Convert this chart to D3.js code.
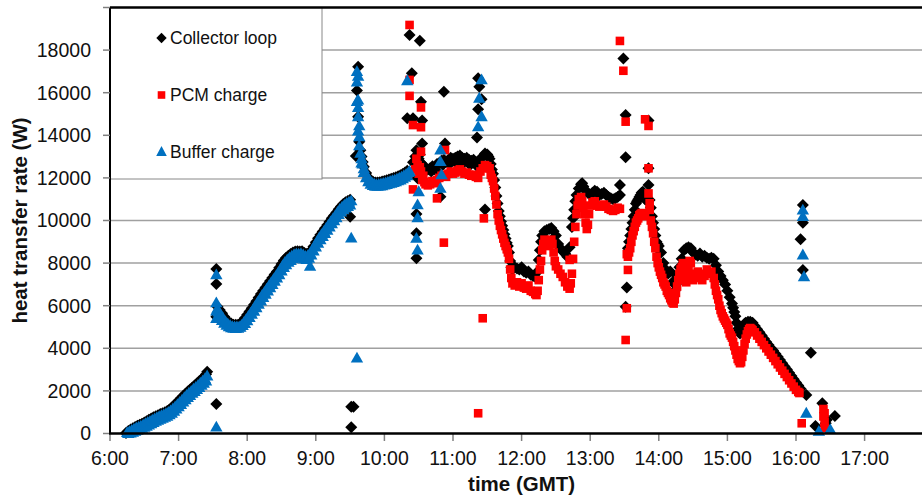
<!DOCTYPE html>
<html><head><meta charset="utf-8">
<script src="https://cdn.jsdelivr.net/npm/d3@7"></script>
<style>body{margin:0;background:#fff;} svg{display:block;font-family:"Liberation Sans",Arial,sans-serif;}</style>
</head><body><svg id="chart" width="922" height="499"></svg>
<script>
const xTickHours = [6,7,8,9,10,11,12,13,14,15,16,17];
const xTickLabels = ["6:00","7:00","8:00","9:00","10:00","11:00","12:00","13:00","14:00","15:00","16:00","17:00"];
const yTicks = [0,2000,4000,6000,8000,10000,12000,14000,16000,18000];
const seriesNames = ["Collector loop","PCM charge","Buffer charge"];
const xTitle = "time (GMT)";
const yTitle = "heat transfer rate (W)";

const collectorLoop = [
["6:14",20],["6:16",120],["6:18",190],["6:20",250],["6:22",310],["6:24",360],["6:26",410],["6:28",460],["6:30",520],["6:32",580],["6:34",640],["6:36",700],["6:38",760],["6:40",810],["6:42",860],["6:44",910],["6:46",950],["6:48",1000],["6:50",1060],["6:52",1130],["6:54",1220],["6:56",1320],["6:58",1430],["7:00",1540],["7:02",1650],["7:04",1760],["7:06",1870],["7:08",1970],["7:10",2060],["7:12",2160],["7:14",2250],["7:16",2350],["7:18",2450],["7:20",2550],["7:22",2650],["7:24",2780],["7:25",2900],
["7:33",1380],["7:33",7720],["7:33",7020],["7:33",5480],
["7:34",5950],["7:36",5800],["7:38",5650],["7:40",5480],["7:42",5330],["7:44",5230],["7:46",5160],["7:48",5110],["7:50",5100],["7:52",5110],["7:54",5160],["7:56",5280],["7:58",5420],["8:00",5570],["8:02",5730],["8:04",5880],["8:06",6040],["8:08",6210],["8:10",6380],["8:12",6550],["8:14",6700],["8:16",6860],["8:18",7010],["8:20",7160],["8:22",7310],["8:24",7460],["8:26",7610],["8:28",7780],["8:30",7960],["8:32",8120],["8:34",8250],["8:36",8350],["8:38",8430],["8:40",8500],["8:42",8540],["8:44",8560],["8:46",8540],["8:48",8560],["8:50",8480],["8:52",8430],["8:54",8480],["8:56",8600],["8:58",8780],["9:00",8980],["9:02",9170],["9:04",9330],["9:06",9480],["9:08",9640],["9:10",9790],["9:12",9940],["9:14",10100],["9:16",10240],["9:18",10380],["9:20",10530],["9:22",10660],["9:24",10770],["9:26",10860],["9:28",10920],["9:30",10980],
["9:30",10180],["9:31",1260],["9:33",1260],["9:31",290],
["9:35",13030],["9:37",17220],["9:36",16100],["9:37",14870],
["9:38",13700],["9:39",13300],["9:40",13000],["9:41",12750],["9:42",12520],["9:44",12230],["9:46",12020],["9:48",11880],["9:50",11820],["9:52",11780],["9:54",11780],["9:56",11800],["9:58",11830],["10:00",11860],["10:02",11890],["10:04",11920],["10:06",11960],["10:08",11990],["10:10",12030],["10:12",12080],["10:14",12120],["10:16",12180],["10:18",12250],["10:20",12330],
["10:22",18710],["10:31",18440],["10:24",16910],["10:32",15580],["10:20",14800],["10:25",14800],["10:33",14690],["10:33",13620],["10:25",12730],["10:29",11980],["10:28",10300],["10:28",9400],["10:28",8230],["10:52",16050],["10:53",13620],["10:49",11120],
["10:27",13000],["10:28",13300],["10:30",12900],["10:31",13100],["10:32",12700],["10:34",12600],["10:36",12450],["10:38",12400],["10:40",12450],["10:42",12550],["10:44",12500],["10:46",12650],["10:48",12700],["10:50",12800],["10:52",12850],["10:54",12750],["10:56",12850],["10:58",12950],["11:00",12900],["11:02",12950],["11:04",13000],["11:06",13050],["11:08",12950],["11:10",12900],["11:12",12950],["11:14",12850],["11:16",12800],["11:18",12850],["11:20",12750],["11:22",12700],["11:24",12900],["11:26",13000],["11:28",13150],["11:30",13100],
["10:41",12300],["10:45",12350],["10:51",12600],["10:57",12650],["11:03",12700],["11:09",12700],["11:15",12600],["11:21",12550],
["11:21",13900],["11:22",15220],["11:22",16680],["11:23",16280],["11:25",15690],["11:28",10520],
["11:31",13000],["11:32",12900],["11:33",12650],["11:34",12400],["11:35",12200],["11:36",11900],["11:37",11550],["11:38",11150],["11:39",10800],["11:40",10450],["11:41",10200],["11:42",9950],["11:43",9750],["11:44",9550],["11:45",9350],["11:46",9150],["11:47",8950],["11:48",8800],["11:49",8500],["11:50",8100],["11:51",7800],
["11:52",7700],["11:54",7800],["11:56",7750],["11:58",7700],["12:00",7800],["12:02",7600],["12:04",7550],["12:06",7600],["12:08",7450],["12:10",7400],["12:12",7350],["12:14",7600],["12:15",8150],["12:16",8600],["12:17",9000],["12:18",9300],["12:20",9500],["12:22",9550],["12:24",9600],["12:26",9650],["12:28",9500],["12:30",9300],["12:32",8900],["12:34",8700],["12:36",8550],["12:38",8450],["12:40",8300],["12:42",8750],["12:44",9700],["12:45",10100],["12:46",10500],["12:47",10900],["12:48",11200],["12:50",11500],["12:52",11700],["12:53",11750],["12:54",11600],["12:56",11400],["12:58",11300],["13:00",11200],["13:02",11300],["13:04",11400],["13:06",11350],["13:08",11200],["13:10",11250],["13:12",11300],["13:14",11200],["13:16",11100],["13:18",11050],["13:20",11000],["13:22",11050],["13:24",11100],["13:26",11200],
["13:26",11670],["13:29",17610],["13:31",14950],["13:31",12970],["13:32",6860],["13:31",5950],
["13:33",8700],["13:34",9000],["13:35",9300],["13:36",9600],["13:37",9900],["13:38",10200],["13:39",10500],["13:40",10800],["13:41",10900],["13:42",11000],["13:43",11100],["13:44",11200],["13:45",11300],["13:46",11350],["13:48",11000],["13:50",10900],
["13:51",14690],["13:51",12450],["13:51",11670],
["13:52",10960],["13:53",10600],["13:54",10200],["13:55",9900],["13:56",9600],["13:57",9300],["13:58",9000],["13:59",8900],["14:00",8800],["14:02",8500],["14:04",8000],["14:06",7700],["14:08",7500],["14:10",7600],["14:12",7100],["14:13",6600],["14:14",6700],["14:15",7000],["14:16",7400],["14:18",7800],["14:20",8200],["14:22",8600],["14:24",8700],["14:26",8750],["14:28",8700],["14:30",8500],["14:32",8400],["14:34",8350],["14:36",8450],["14:38",8300],["14:40",8350],["14:42",8250],["14:44",8200],["14:46",8250],["14:48",8200],
["14:50",7900],["14:52",7600],["14:54",7400],["14:56",7200],["14:58",7000],["15:00",6700],["15:02",6400],["15:04",6100],["15:05",5900],["15:06",5700],["15:07",5500],["15:08",5200],["15:09",4900],["15:10",4750],["15:11",4700],["15:12",4800],["15:13",4950],["15:14",5050],["15:15",5150],["15:16",5200],["15:18",5250],["15:20",5250],["15:22",5200],["15:24",5050],["15:26",4900],["15:28",4750],["15:30",4600],["15:32",4450],["15:34",4300],["15:36",4150],["15:38",4000],["15:40",3900],["15:42",3750],["15:44",3600],["15:46",3450],["15:48",3300],["15:50",3150],["15:52",3000],["15:54",2850],["15:56",2700],["15:58",2550],["16:00",2400],["16:02",2250],["16:04",2100],
["16:09",1810],["16:04",9120],["16:06",10730],["16:06",9900],["16:06",7680],["16:13",3790],["16:17",350],["16:23",1420],["16:26",480],["16:27",650],["16:34",820]
];

const pcmCharge = [
["10:22",19180],["10:22",16600],["10:22",15850],["10:25",14480],["10:32",15310],["10:32",14380],["10:32",13230],["10:25",11460],["10:46",11040],["10:53",13310],["10:52",8960],
["10:27",12400],["10:28",12900],["10:29",12600],["10:30",12200],["10:31",12500],["10:32",12300],["10:33",11900],["10:34",12100],["10:35",11800],["10:36",11700],["10:38",11650],["10:40",11700],["10:42",11850],["10:44",11750],["10:46",11900],["10:48",12000],["10:50",12100],["10:52",12150],["10:54",12050],["10:56",12200],["10:58",12300],["11:00",12200],["11:02",12250],["11:04",12350],["11:06",12400],["11:08",12300],["11:10",12200],["11:12",12250],["11:14",12150],["11:16",12100],["11:18",12150],["11:20",12050],["11:22",12000],
["11:27",10100],["11:26",5410],["11:22",950],
["11:24",12300],["11:26",12450],["11:28",12600],["11:30",12550],["11:32",12450],["11:33",12150],["11:34",12000],["11:35",11850],["11:36",11500],["11:37",11150],["11:38",10750],["11:39",10300],["11:40",10000],["11:41",9750],["11:42",9550],["11:43",9350],["11:44",9150],["11:45",8950],["11:46",8800],["11:47",8650],["11:48",8500],["11:49",8200],["11:50",7700],["11:51",7300],["11:52",7050],
["11:54",6950],["11:56",7100],["11:58",6900],["12:00",7050],["12:02",6850],["12:04",6800],["12:06",6950],["12:08",6700],["12:10",6650],["12:12",6550],["12:13",6500],["12:14",6700],["12:15",7200],["12:16",7700],["12:17",8100],["12:18",8600],["12:19",8900],["12:20",9100],["12:22",9000],["12:24",8800],["12:26",9100],["12:27",8900],["12:28",8500],["12:29",8100],["12:30",7850],["12:32",7700],["12:34",7500],["12:36",7350],["12:38",7100],["12:40",6900],["12:42",6800],["12:43",7050],["12:42",8150],
["12:44",7500],["12:45",8200],["12:46",9000],["12:47",9700],["12:48",10300],["12:49",10700],["12:50",11000],["12:52",11100],["12:53",10900],["12:54",10600],["12:55",10300],["12:56",9900],["12:57",9600],["12:58",9800],["12:59",10300],["13:00",10700],["13:02",10850],["13:04",10900],["13:06",10700],["13:08",10650],["13:10",10700],["13:12",10750],["13:14",10650],["13:16",10550],["13:18",10500],["13:20",10450],["13:22",10500],["13:24",10600],["13:26",10550],
["13:26",18430],["13:29",17030],["13:31",14640],["13:31",4390],["13:32",8420],["13:33",7680],["13:32",5880],
["13:33",8300],["13:34",8500],["13:35",8700],["13:36",9000],["13:37",9300],["13:38",9500],["13:39",9700],["13:40",9900],["13:41",10000],["13:42",10100],["13:43",10250],["13:44",10300],["13:45",10350],["13:46",10200],["13:48",10300],
["13:48",14750],["13:51",14440],["13:51",12450],["13:51",11270],["13:52",10810],
["13:52",10500],["13:53",10000],["13:54",9700],["13:55",9400],["13:56",9000],["13:57",8700],["13:58",8300],["13:59",8000],["14:00",7800],["14:01",7600],["14:02",7450],["14:03",7300],["14:04",7100],["14:05",7000],["14:06",6900],["14:07",6700],["14:08",6600],["14:09",6500],["14:10",6350],["14:11",6250],["14:12",6150],["14:13",6100],["14:14",6300],["14:15",6600],["14:16",6900],["14:17",7200],["14:18",7500],["14:19",7700],["14:20",7800],["14:21",8000],["14:22",7600],["14:23",7300],["14:24",7100],["14:25",7400],["14:26",7800],["14:27",8100],["14:28",8000],["14:29",7500],["14:30",7200],["14:32",7300],["14:34",7600],["14:36",7500],["14:38",7200],["14:40",7400],["14:42",7700],["14:44",7500],["14:46",7600],["14:48",7300],
["14:49",7000],["14:50",6700],["14:51",6500],["14:52",6300],["14:53",6000],["14:54",5800],["14:55",5650],["14:56",5500],["14:57",5400],["14:58",5300],["14:59",5200],["15:00",5100],["15:01",4900],["15:02",4700],["15:03",4600],["15:04",4500],["15:05",4300],["15:06",4100],["15:07",3900],["15:08",3700],["15:09",3500],["15:10",3400],["15:11",3300],["15:12",3350],["15:13",3600],["15:14",3900],["15:15",4200],["15:16",4450],["15:17",4650],["15:18",4800],["15:19",4900],["15:20",4950],["15:21",4900],["15:22",4850],["15:24",4750],["15:26",4600],["15:28",4450],["15:30",4300],["15:32",4150],["15:34",4000],["15:36",3850],["15:38",3700],["15:40",3550],["15:42",3400],["15:44",3250],["15:46",3100],["15:48",2950],["15:50",2800],["15:52",2650],["15:54",2500],["15:56",2350],["15:58",2200],["16:00",2050],["16:02",1950],["16:03",1900],
["16:05",480],["16:24",1150],["16:24",800],["16:25",950],["16:25",550],["16:25",250]
];

const bufferCharge = [
["6:15",40],["6:17",90],["6:19",150],["6:21",210],["6:23",260],["6:25",300],["6:27",350],["6:29",400],["6:31",460],["6:33",520],["6:35",570],["6:37",630],["6:39",690],["6:41",740],["6:43",790],["6:45",840],["6:47",880],["6:49",930],["6:51",990],["6:53",1060],["6:55",1150],["6:57",1250],["6:59",1360],["7:01",1460],["7:03",1570],["7:05",1680],["7:07",1790],["7:09",1890],["7:11",1980],["7:13",2080],["7:15",2170],["7:17",2260],["7:19",2360],["7:21",2460],["7:23",2560],["7:25",2700],
["6:16",0],["6:18",20],["6:20",50],["6:22",100],["6:24",150],["6:26",190],["6:28",240],["6:30",290],["6:32",340],["6:34",400],["6:36",450],["6:38",510],["6:40",570],["6:42",620],["6:44",670],["6:46",710],["6:48",760],["6:50",810],["6:52",870],["6:54",950],["6:56",1040],["6:58",1150],["7:00",1250],["7:02",1360],["7:04",1470],["7:06",1580],["7:08",1690],["7:10",1780],["7:12",1880],["7:14",1970],["7:16",2060],["7:18",2160],["7:20",2260],["7:22",2360],["7:24",2460],
["7:33",300],["7:33",7450],["7:33",6130],["7:33",5750],["7:33",5400],
["7:34",5850],["7:35",5700],["7:37",5550],["7:39",5400],["7:41",5250],["7:43",5150],["7:45",5080],["7:47",5020],["7:49",5000],["7:51",5000],["7:53",5010],["7:55",5080],["7:57",5200],["7:59",5350],["8:01",5500],["8:03",5650],["8:05",5800],["8:07",5980],["8:09",6150],["8:11",6300],["8:13",6480],["8:15",6620],["8:17",6780],["8:19",6930],["8:21",7080],["8:23",7230],["8:25",7380],["8:27",7530],["8:29",7700],["8:31",7880],["8:33",8030],["8:35",8150],["8:37",8250],["8:39",8330],["8:41",8400],["8:43",8430],["8:45",8420],["8:47",8440],["8:49",8380],["8:51",8320],["8:53",8350],["8:55",7850],["8:55",8450],["8:57",8620],["8:59",8820],["9:01",9000],["9:03",9180],["9:05",9330],["9:07",9480],["9:09",9630],["9:11",9780],["9:13",9930],["9:15",10080],["9:17",10220],["9:19",10380],["9:21",10520],["9:23",10630],["9:25",10720],["9:27",10800],["9:29",10860],["9:31",10920],
["7:36",5450],["7:38",5300],["7:40",5170],["7:42",5080],["7:44",5010],["7:46",4960],["7:48",4940],["7:50",4930],["7:52",4940],["7:54",4980],["7:56",5060],["7:58",5160],["8:00",5290],["8:02",5440],["8:04",5590],["8:06",5740],["8:08",5900],["8:10",6060],["8:12",6220],["8:14",6380],["8:16",6530],["8:18",6690],["8:20",6840],["8:22",6990],["8:24",7140],["8:26",7290],["8:28",7450],["8:30",7620],["8:32",7790],["8:34",7920],["8:36",8030],["8:38",8120],["8:40",8200],["8:42",8250],["8:44",8270],["8:46",8260],["8:48",8250],["8:50",8190],["8:52",8160],["8:54",8220],["8:56",8370],["8:58",8560],["9:00",8750],["9:02",8930],["9:04",9090],["9:06",9240],["9:08",9390],["9:10",9540],["9:12",9690],["9:14",9840],["9:16",9980],["9:18",10130],["9:20",10280],["9:22",10400],["9:24",10500],["9:26",10580],["9:28",10650],["9:30",10720],
["9:31",9170],["9:36",3540],
["9:36",16990],["9:37",16770],["9:36",16500],["9:36",15580],["9:37",15650],["9:37",15300],["9:37",14870],["9:38",14440],["9:37",14200],["9:38",13930],["9:38",13500],
["9:39",13150],["9:40",12900],["9:41",12650],["9:42",12420],["9:43",12250],["9:45",12050],["9:47",11900],["9:49",11780],["9:51",11720],["9:53",11680],["9:55",11690],["9:57",11720],["9:59",11740],["10:01",11770],["10:03",11800],["10:05",11840],["10:07",11870],["10:09",11900],["10:11",11940],["10:13",11990],["10:15",12040],["10:17",12100],["10:19",12170],["10:21",12250],["10:22",12300],
["9:40",12700],["9:42",12250],["9:44",12000],["9:46",11820],["9:48",11700],["9:50",11640],["9:52",11600],["9:54",11600],["9:56",11610],["9:58",11630],["10:00",11660],["10:02",11690],["10:04",11720],["10:06",11750],["10:08",11780],["10:10",11820],["10:12",11860],["10:14",11900],["10:16",11960],["10:18",12020],["10:20",12100],
["10:20",16560],["10:30",11350],["10:29",10730],["10:29",10120],["10:28",9160],["10:29",8610],
["10:49",13310],["10:49",12760],["10:50",12140],["10:49",11510],
["11:25",16600],["11:23",15740],["11:25",14870],["11:22",14400],
["16:06",10490],["16:06",10180],["16:06",8380],["16:07",7360],["16:09",950],["16:20",100],["16:30",180]
];

const toHours = s => { const [h, m] = s.split(":").map(Number); return h + m / 60; };

const svg = d3.select("#chart");
const x = d3.scaleLinear().domain([6, 18]).range([110, 933.2]);
const y = d3.scaleLinear().domain([0, 20000]).range([433.5, 7.5]);
const xRight = 922;

// gridlines
svg.append("g").selectAll("line").data(yTicks.filter(d => d > 0)).join("line")
  .attr("x1", x(6)).attr("x2", xRight).attr("y1", d => y(d)).attr("y2", d => y(d))
  .attr("stroke", "#a0a0a0").attr("stroke-width", 1.5);

// markers
const diamond = "M0,-6L6,0L0,6L-6,0Z";
const square = "M-4.3,-4.3H4.3V4.3H-4.3Z";
const triangle = "M0,-6.4L6.2,4.4H-6.2Z";
function drawSeries(data, path, color) {
  svg.append("g").selectAll("path").data(data).join("path")
    .attr("d", path).attr("fill", color)
    .attr("transform", d => `translate(${x(toHours(d[0]))},${y(d[1])})`);
}
drawSeries(collectorLoop, diamond, "#000000");
drawSeries(pcmCharge, square, "#ff0000");
drawSeries(bufferCharge, triangle, "#0070c0");

// legend
const lg = svg.append("g");
lg.append("rect").attr("x", 110).attr("y", 7.5).attr("width", 212).attr("height", 171.5)
  .attr("fill", "#fff").attr("stroke", "#888").attr("stroke-width", 1);
const legendY = [38, 95, 151.5];
const legendShapes = [["M0,-5.2L5.2,0L0,5.2L-5.2,0Z", "#000000"], ["M-3.8,-3.8H3.8V3.8H-3.8Z", "#ff0000"], ["M0,-5.6L5.3,4.4H-5.3Z", "#0070c0"]];
seriesNames.forEach((name, i) => {
  lg.append("path").attr("d", legendShapes[i][0]).attr("fill", legendShapes[i][1])
    .attr("transform", `translate(161.5,${legendY[i]})`);
  lg.append("text").attr("x", 170).attr("y", legendY[i]).attr("dy", "0.35em")
    .attr("font-size", 17.5).attr("fill", "#111").text(name);
});

// axes lines
svg.append("line").attr("x1", x(6)).attr("x2", xRight).attr("y1", y(20000)).attr("y2", y(20000))
  .attr("stroke", "#000").attr("stroke-width", 2.5);
svg.append("line").attr("x1", x(6)).attr("x2", x(6)).attr("y1", y(20000)).attr("y2", y(0))
  .attr("stroke", "#000").attr("stroke-width", 2);
svg.append("g").selectAll("line").data(yTicks.concat([20000])).join("line")
  .attr("x1", 103).attr("x2", x(6)).attr("y1", d => y(d)).attr("y2", d => y(d))
  .attr("stroke", "#808080").attr("stroke-width", 1.5);
svg.append("g").selectAll("text").data(yTicks).join("text")
  .attr("x", 91).attr("y", d => y(d)).attr("dy", "0.35em").attr("text-anchor", "end")
  .attr("font-size", 19.5).attr("fill", "#111").text(d => d);
svg.append("g").selectAll("line").data(xTickHours).join("line")
  .attr("x1", d => x(d)).attr("x2", d => x(d)).attr("y1", y(0)).attr("y2", y(0) + 7.5)
  .attr("stroke", "#808080").attr("stroke-width", 1.5);
svg.append("g").selectAll("text").data(xTickHours).join("text")
  .attr("x", d => x(d)).attr("y", 465).attr("text-anchor", "middle")
  .attr("font-size", 19.5).attr("fill", "#111").text((d, i) => xTickLabels[i]);
svg.append("line").attr("x1", x(6) - 1).attr("x2", xRight).attr("y1", y(0)).attr("y2", y(0))
  .attr("stroke", "#000").attr("stroke-width", 2.5);

// titles
svg.append("text").attr("x", (x(6) + x(18)) / 2).attr("y", 491).attr("text-anchor", "middle")
  .attr("font-size", 20.5).attr("font-weight", "bold").attr("fill", "#111").text(xTitle);
svg.append("text").attr("transform", `translate(27,${(y(0) + y(20000)) / 2}) rotate(-90)`)
  .attr("text-anchor", "middle").attr("font-size", 20.5).attr("font-weight", "bold")
  .attr("fill", "#111").text(yTitle);
</script></body></html>
